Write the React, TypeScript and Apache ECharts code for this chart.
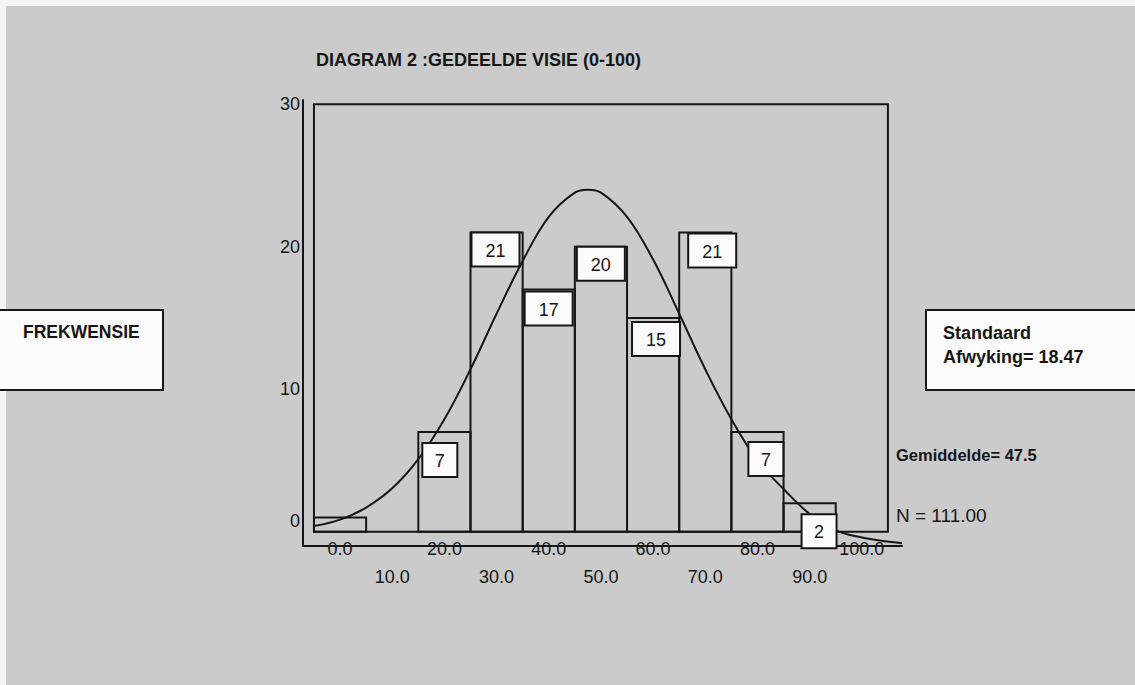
import { useEffect, useRef } from "react";
import * as echarts from "echarts";

// ---- data ----
const chartTitle = "DIAGRAM 2 :GEDEELDE VISIE (0-100)";
const binCenters = [0, 10, 20, 30, 40, 50, 60, 70, 80, 90, 100];
const counts = [1, 0, 7, 21, 17, 20, 15, 21, 7, 2, 0];
const yTickValues = [0, 10, 20, 30];
const xTicksUpper = [0, 20, 40, 60, 80, 100];
const xTicksLower = [10, 30, 50, 70, 90];
// fitted normal curve
const curveX = [-5, 0, 5, 10, 15, 20, 25, 30, 35, 40, 45, 47.5, 50, 55, 60, 65, 70, 75, 80, 85, 90, 95, 100, 104, 107.7];
const curveY = [0.4, 0.85, 1.7, 3.05, 5.1, 7.9, 11.4, 15.3, 19.0, 22.1, 23.8, 24.0, 23.8, 22.1, 19.1, 15.3, 11.4, 7.9, 5.0, 3.0, 1.25, 0.1, -0.4, -0.65, -0.8];
const yLabel = "FREKWENSIE";
const sdLabel = ["Standaard", "Afwyking= 18.47"];
const meanLabel = "Gemiddelde= 47.5";
const nLabel = "N = 111.00";

// ---- label box placement (pixel offsets from each bar's top-left corner) ----
const labelDx = [0, 0, 4, 1, 2, 2, 5, 9, 17, 18, 0];
const labelDy = [0, 0, 11, 0, 2, 0, 4, 1, 10, 11, 0];
const labelShown = [false, false, true, true, true, true, true, true, true, true, false];

const FONT = '"Liberation Sans", Arial, Helvetica, sans-serif';
const INK = "#161616";
const BG = "#cbcbcb";
const BOX = "#fbfbfb";

export default function App() {
  const ref = useRef<HTMLDivElement>(null);

  useEffect(() => {
    if (!ref.current) return;
    const chart = echarts.init(ref.current, null, { renderer: "svg" });

    const barData = binCenters.map((x, i) => [x, counts[i]]);
    const labelData = binCenters
      .map((x, i) => ({ value: [x, counts[i], labelDx[i], labelDy[i]], show: labelShown[i] }))
      .filter((d) => d.show)
      .map((d) => d.value);
    const curveData = curveX.map((x, i) => [x, curveY[i]]);

    const option: any = {
      animation: false,
      backgroundColor: "transparent",
      grid: {
        left: 303,
        right: 233,
        top: 100,
        bottom: 139,
        containLabel: false,
        outerBoundsMode: "none",
      },
      xAxis: [
        {
          type: "value",
          min: -7.1,
          max: 107.7,
          axisLine: { show: true, onZero: false, lineStyle: { color: INK, width: 2 } },
          axisTick: { show: false },
          splitLine: { show: false },
          axisLabel: {
            customValues: xTicksUpper,
            formatter: (v: number) => v.toFixed(1),
            margin: 3,
            verticalAlign: "middle",
            color: INK,
            fontSize: 18,
            fontFamily: FONT,
          },
        },
        {
          type: "value",
          position: "bottom",
          min: -7.1,
          max: 107.7,
          axisLine: { show: false },
          axisTick: { show: false },
          splitLine: { show: false },
          axisLabel: {
            customValues: xTicksLower,
            formatter: (v: number) => v.toFixed(1),
            margin: 31,
            verticalAlign: "middle",
            color: INK,
            fontSize: 18,
            fontFamily: FONT,
          },
        },
      ],
      yAxis: {
        type: "value",
        min: -1,
        max: 30.3,
        axisLine: { show: true, onZero: false, lineStyle: { color: INK, width: 2 } },
        axisTick: { show: false },
        splitLine: { show: false },
        axisLabel: {
          customValues: yTickValues,
          margin: 3,
          color: INK,
          fontSize: 18,
          fontFamily: FONT,
          formatter: (v: number) => (v === 0 ? "{z|0}" : String(v)),
          rich: {
            z: { padding: [0, 0, 22, 0], fontSize: 18, fontFamily: FONT, color: INK },
          },
        },
      },
      graphic: [
        { type: "rect", z: -10, silent: true, shape: { x: 6, y: 6, width: 1135, height: 685 }, style: { fill: BG } },
        {
          type: "text",
          x: 316,
          y: 60,
          style: { text: chartTitle, font: `bold 18px ${FONT}`, fill: INK, verticalAlign: "middle" },
        },
        {
          type: "rect",
          shape: { x: -2, y: 310, width: 165, height: 80 },
          style: { fill: BOX, stroke: INK, lineWidth: 2 },
        },
        {
          type: "text",
          x: 23,
          y: 332,
          style: { text: yLabel, font: `bold 17.5px ${FONT}`, fill: INK, verticalAlign: "middle" },
        },
        {
          type: "rect",
          shape: { x: 926, y: 310, width: 230, height: 80 },
          style: { fill: BOX, stroke: INK, lineWidth: 2 },
        },
        {
          type: "text",
          x: 943,
          y: 333,
          style: { text: sdLabel[0], font: `bold 18px ${FONT}`, fill: INK, verticalAlign: "middle" },
        },
        {
          type: "text",
          x: 943,
          y: 357,
          style: { text: sdLabel[1], font: `bold 18px ${FONT}`, fill: INK, verticalAlign: "middle" },
        },
        {
          type: "text",
          x: 896,
          y: 455,
          style: { text: meanLabel, font: `bold 16.5px ${FONT}`, fill: INK, verticalAlign: "middle" },
        },
        {
          type: "text",
          x: 896,
          y: 515,
          style: { text: nLabel, font: `19px ${FONT}`, fill: INK, verticalAlign: "middle" },
        },
      ],
      series: [
        {
          // inner plot frame spanning the histogram's range
          type: "custom",
          z: 1,
          silent: true,
          data: [[-5, 105, 0, 30]],
          renderItem: (_p: any, api: any) => {
            const a = api.coord([api.value(0), api.value(3)]);
            const b = api.coord([api.value(1), api.value(2)]);
            return {
              type: "rect",
              shape: { x: a[0], y: a[1], width: b[0] - a[0], height: b[1] - a[1] },
              style: { fill: "none", stroke: INK, lineWidth: 2 },
            };
          },
        },
        {
          type: "custom",
          z: 2,
          silent: true,
          data: barData,
          renderItem: (_p: any, api: any) => {
            const x = api.value(0);
            const v = api.value(1);
            if (!v) return null;
            const a = api.coord([x - 5, v]);
            const b = api.coord([x + 5, 0]);
            return {
              type: "rect",
              shape: { x: a[0], y: a[1], width: b[0] - a[0], height: b[1] - a[1] },
              style: { fill: "none", stroke: INK, lineWidth: 2 },
            };
          },
        },
        {
          type: "line",
          z: 3,
          silent: true,
          data: curveData,
          smooth: 0.4,
          symbol: "none",
          clip: false,
          lineStyle: { color: INK, width: 2 },
        },
        {
          type: "custom",
          z: 4,
          silent: true,
          data: labelData,
          renderItem: (_p: any, api: any) => {
            const x = api.value(0);
            const v = api.value(1);
            const dx = api.value(2);
            const dy = api.value(3);
            const a = api.coord([x - 5, v]);
            const txt = String(v);
            const w = txt.length > 1 ? 48 : 35;
            const h = 34;
            const bx = a[0] + dx;
            const by = a[1] + dy;
            return {
              type: "group",
              children: [
                {
                  type: "rect",
                  shape: { x: bx, y: by, width: w, height: h },
                  style: { fill: BOX, stroke: INK, lineWidth: 2 },
                },
                {
                  type: "text",
                  x: bx + w / 2,
                  y: by + h / 2 + 1,
                  style: {
                    text: txt,
                    font: `18px ${FONT}`,
                    fill: INK,
                    align: "center",
                    verticalAlign: "middle",
                  },
                },
              ],
            };
          },
        },
      ],
    };

    chart.setOption(option);
    return () => chart.dispose();
  }, []);

  return (
    <div
      ref={ref}
      style={{ position: "absolute", left: 0, top: 0, width: 1135, height: 685, background: "#f4f4f4" }}
    />
  );
}
